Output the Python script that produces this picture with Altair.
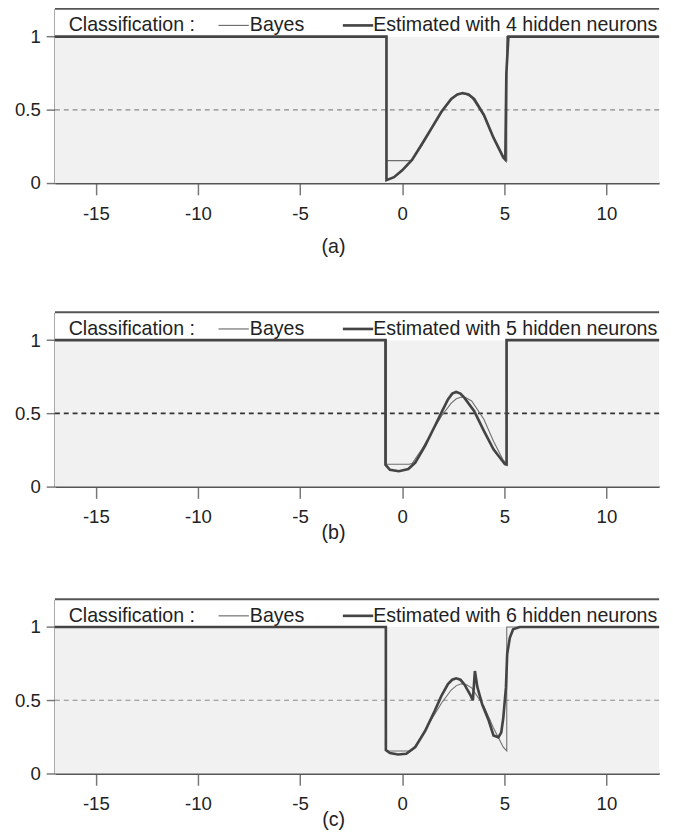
import altair as alt
import pandas as pd

FONT = "Liberation Sans"

X_MIN, X_MAX = -17, 12.58
Y_MAX = 1.19
W, H = 617, 178

x_ticks = [-15, -10, -5, 0, 5, 10]
y_ticks = [0, 0.5, 1]

# Bayes classifier (same in every panel)
bayes_x = [-17, -0.77, -0.77, 0.35, 0.5, 0.96, 1.44, 1.92, 2.4, 2.65, 2.9, 3.15, 3.4, 4.0, 4.47,
           4.95, 5.12, 5.12, 12.58]
bayes_y = [1, 1, 0.153, 0.153, 0.16, 0.255, 0.37, 0.48, 0.57, 0.6, 0.612, 0.605, 0.585, 0.46, 0.31,
           0.18, 0.155, 1, 1]

# Estimated with 4 hidden neurons
est4_x = [-17, -0.77, -0.77, -0.4, 0, 0.48, 0.96, 1.44, 1.92, 2.4, 2.7, 2.96, 3.25, 3.52, 4.0,
          4.47, 4.95, 5.05, 5.1, 5.2, 12.58]
est4_y = [1, 1, 0.02, 0.04, 0.087, 0.158, 0.265, 0.375, 0.487, 0.575, 0.605, 0.615, 0.605, 0.575,
          0.465, 0.31, 0.175, 0.16, 0.75, 1, 1]

# Estimated with 5 hidden neurons
est5_x = [-17, -0.82, -0.82, -0.6, -0.16, 0.3, 0.64, 1.12, 1.6, 1.92, 2.24, 2.45, 2.64, 2.85,
          3.04, 3.52, 4.0, 4.47, 5.03, 5.11, 5.11, 12.58]
est5_y = [1, 1, 0.15, 0.115, 0.105, 0.12, 0.164, 0.278, 0.414, 0.505, 0.595, 0.635, 0.646, 0.635,
          0.607, 0.516, 0.38, 0.255, 0.153, 0.15, 1, 1]

# Estimated with 6 hidden neurons
est6_x = [-17, -0.8, -0.8, -0.6, -0.2, 0.2, 0.64, 1.12, 1.6, 1.92, 2.24, 2.45, 2.64, 2.85, 3.04,
          3.36, 3.46, 3.56, 3.68, 3.92, 4.24, 4.47, 4.71, 4.85, 4.95, 5.08, 5.14, 5.27, 5.43,
          5.75, 12.58]
est6_y = [1, 1, 0.16, 0.14, 0.13, 0.135, 0.18, 0.29, 0.43, 0.53, 0.61, 0.64, 0.65, 0.64, 0.61,
          0.53, 0.50, 0.70, 0.59, 0.47, 0.36, 0.26, 0.247, 0.28, 0.38, 0.586, 0.815, 0.926, 0.985,
          1.0, 1.0]

legend_head = "Classification :"
legend_bayes = "Bayes"
panel_labels = ["(a)", "(b)", "(c)"]
neurons = [4, 5, 6]

xscale = alt.Scale(domain=[X_MIN, X_MAX], nice=False, zero=False)
yscale = alt.Scale(domain=[0, Y_MAX], nice=False, zero=False)
axis_common = dict(title=None, grid=False, labelFont=FONT, labelFontSize=19, labelColor="#222222",
                   domainColor="#555555", domainWidth=2, tickColor="#777777", tickWidth=1.5,
                   labelExpr="'' + datum.value")
xaxis = alt.Axis(values=x_ticks, tickSize=12, labelPadding=10, **axis_common)
yaxis = alt.Axis(values=y_ticks, tickSize=9, labelPadding=6, **axis_common)


def panel(ex, ey, n, label, toffset, dash_color, dash_width):
    bdf = pd.DataFrame({"x": bayes_x, "y": bayes_y, "i": list(range(len(bayes_x)))})
    edf = pd.DataFrame({"x": ex, "y": ey, "i": list(range(len(ex)))})
    X = alt.X("x:Q", scale=xscale, axis=xaxis)
    Y = alt.Y("y:Q", scale=yscale, axis=yaxis)

    bg = alt.Chart(pd.DataFrame({"x": [X_MIN], "x2": [X_MAX], "y": [0.0], "y2": [1.0]})).mark_rect(
        color="#f1f1f1").encode(x=X, x2="x2:Q", y=Y, y2="y2:Q")
    band = alt.Chart(pd.DataFrame({"x": [X_MIN], "x2": [X_MAX], "y": [1.0], "y2": [Y_MAX]})).mark_rect(
        color="white").encode(x=X, x2="x2:Q", y=Y, y2="y2:Q")
    half = alt.Chart(pd.DataFrame({"y": [0.5]})).mark_rule(
        color=dash_color, strokeDash=[5, 4], strokeWidth=dash_width).encode(y=Y)
    bayes = alt.Chart(bdf).mark_line(color="#6e6e6e", strokeWidth=1.1).encode(
        x=X, y=Y, order="i:Q")
    est = alt.Chart(edf).mark_line(color="#444444", strokeWidth=2.7).encode(
        x=X, y=Y, order="i:Q")
    top = alt.Chart(pd.DataFrame({"a": [0]})).mark_rule(color="#555555", strokeWidth=2).encode(
        x=alt.value(0), x2=alt.value(W), y=alt.value(0))

    ly = 17
    t1 = alt.Chart(pd.DataFrame({"t": [legend_head]})).mark_text(
        align="left", baseline="middle", x=14, y=ly, fontSize=20, font=FONT, color="#222").encode(text="t:N")
    k1 = alt.Chart(pd.DataFrame({"a": [0]})).mark_rule(color="#6e6e6e", strokeWidth=1.2).encode(
        x=alt.value(167), x2=alt.value(198), y=alt.value(ly))
    t2 = alt.Chart(pd.DataFrame({"t": [legend_bayes]})).mark_text(
        align="left", baseline="middle", x=199, y=ly, fontSize=20, font=FONT, color="#222").encode(text="t:N")
    k2 = alt.Chart(pd.DataFrame({"a": [0]})).mark_rule(color="#444444", strokeWidth=2.7).encode(
        x=alt.value(294), x2=alt.value(325), y=alt.value(ly))
    t3 = alt.Chart(pd.DataFrame({"t": [f"Estimated with {n} hidden neurons"]})).mark_text(
        align="left", baseline="middle", x=325, y=ly, fontSize=20, font=FONT, color="#222").encode(text="t:N")

    return alt.layer(bg, band, half, bayes, est, top, t1, k1, t2, k2, t3).properties(
        width=W, height=H,
        title=alt.TitleParams(label, orient="bottom", anchor="middle", dx=-24, offset=toffset,
                              fontSize=20, font=FONT, fontWeight="normal", color="#222"))


pa = panel(est4_x, est4_y, neurons[0], panel_labels[0], 14, "#8a8a8a", 1.2)
pb = panel(est5_x, est5_y, neurons[1], panel_labels[1], -3, "#333333", 1.6)
pc = panel(est6_x, est6_y, neurons[2], panel_labels[2], -3, "#8a8a8a", 1.2)

chart = alt.vconcat(pa, pb, pc, spacing=54).properties(
    padding={"left": 6, "top": -10, "right": 0, "bottom": -6},
    background="white"
).configure_view(stroke="transparent")

chart.save("out.html", embed_options={"renderer": "svg", "actions": False})
